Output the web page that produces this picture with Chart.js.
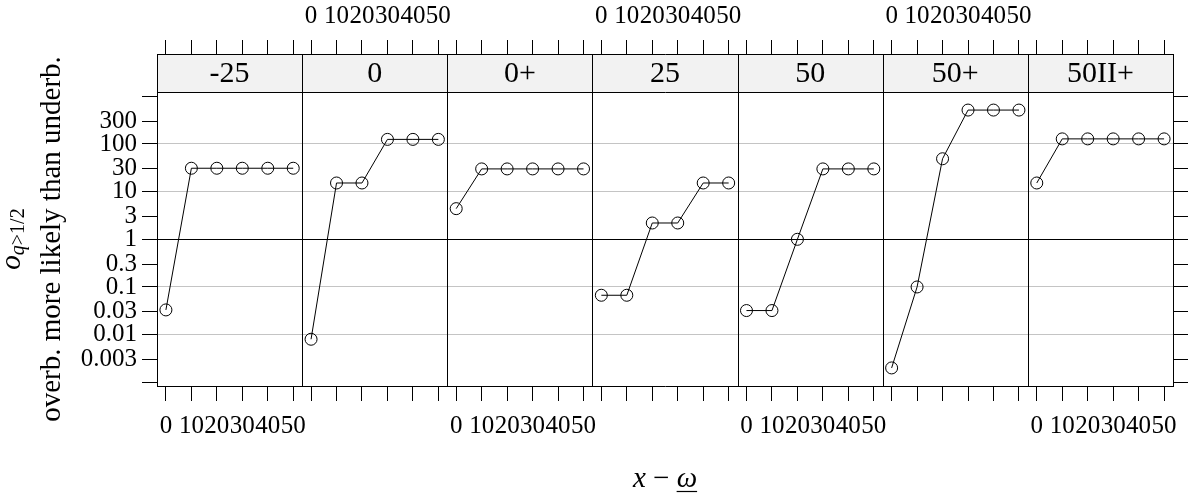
<!DOCTYPE html>
<html>
<head>
<meta charset="utf-8">
<script src="https://cdn.jsdelivr.net/npm/chart.js@4.4.1/dist/chart.umd.min.js"></script>
<style>
  html, body { margin: 0; padding: 0; background: #fff; }
  #wrap { width: 1190px; height: 496px; position: relative; }
</style>
</head>
<body>
<div id="wrap"><canvas id="odds"></canvas></div>
<script>
// one panel per condition, odds on a log axis
var panels = ['-25', '0', '0+', '25', '50', '50+', '50II+'];
var xValues = [0, 10, 20, 30, 40, 50];

var oddsM25   = [0.033, 31, 31, 31, 31, 31];
var odds0     = [0.008, 15.2, 15.2, 125, 125, 125];
var odds0p    = [4.4, 30, 30, 30, 30, 30];
var odds25    = [0.067, 0.067, 2.2, 2.2, 15.2, 15.2];
var odds50    = [0.032, 0.032, 1, 30, 30, 30];
var odds50p   = [0.002, 0.1, 49, 515, 515, 515];
var odds50IIp = [15.2, 128, 128, 128, 128, 128];

var yTickValues = [0.001, 0.003, 0.01, 0.03, 0.1, 0.3, 1, 3, 10, 30, 100, 300, 1000];
var yTickLabels = ['', '0.003', '0.01', '0.03', '0.1', '0.3', '1', '3', '10', '30', '100', '300', ''];
var xTickValues = [0, 10, 20, 30, 40, 50];

var series = [oddsM25, odds0, odds0p, odds25, odds50, odds50p, odds50IIp];

var FONT = 'Liberation Serif';
Chart.defaults.font.family = FONT;
Chart.defaults.font.size = 25;
Chart.defaults.color = '#000';

var Y_MIN = Math.pow(10, -3.078);
var Y_MAX = Math.pow(10, 3.091);

function setTicks(vals) {
  return function (scale) {
    scale.ticks = vals.map(function (v) { return { value: v }; });
  };
}
// fixed axis sizes, and no extra side padding for overhanging labels
function fixSize(w, h) {
  return function (scale) {
    if (w != null) scale.width = w;
    if (h != null) scale.height = h;
    scale.paddingLeft = 0;
    scale.paddingRight = 0;
    scale.paddingTop = 0;
    scale.paddingBottom = 0;
  };
}

var scales = {
  y: {
    type: 'logarithmic', position: 'left', min: Y_MIN, max: Y_MAX,
    afterBuildTicks: setTicks(yTickValues),
    afterFit: fixSize(157, null),
    border: { display: false },
    grid: {
      tickLength: 15, tickColor: '#000',
      color: function (c) {
        var v = c.tick ? c.tick.value : 0;
        if (v === 1) return '#000';
        if (v === 0.01 || v === 0.1 || v === 10 || v === 100) return '#c4c4c4';
        return 'rgba(0,0,0,0)';
      }
    },
    ticks: {
      autoSkip: false, padding: 5,
      callback: function (v, i) { return yTickLabels[i]; }
    }
  },
  yr: {
    type: 'logarithmic', position: 'right', min: Y_MIN, max: Y_MAX,
    afterBuildTicks: setTicks(yTickValues),
    afterFit: fixSize(17, null),
    border: { display: false },
    grid: { drawOnChartArea: false, tickLength: 15, tickColor: '#000' },
    ticks: { display: false, autoSkip: false }
  },
  strip: {
    type: 'category', position: 'top', labels: panels, offset: true, weight: 1,
    afterFit: fixSize(null, 38),
    border: { display: false },
    grid: { display: false },
    ticks: { autoSkip: false, maxRotation: 0, minRotation: 0, padding: -8, font: { size: 30 } }
  }
};

panels.forEach(function (p, i) {
  var common = {
    type: 'linear', min: -3.5, max: 53.5,
    afterBuildTicks: setTicks(xTickValues),
    border: { display: false }
  };
  scales['b' + i] = Object.assign({}, common, {
    position: 'bottom', stack: 'bottom', weight: 1,
    afterFit: fixSize(null, 110),
    grid: { drawOnChartArea: false, tickLength: 15, tickColor: '#000' },
    ticks: { display: i % 2 === 0, autoSkip: false, maxRotation: 0, minRotation: 0, padding: 10 }
  });
  scales['t' + i] = Object.assign({}, common, {
    position: 'top', stack: 'top', weight: 2,
    afterFit: fixSize(null, 54),
    grid: { drawOnChartArea: false, tickLength: 14, tickColor: '#000' },
    ticks: { display: i % 2 === 1, autoSkip: false, maxRotation: 0, minRotation: 0, padding: 9 }
  });
});

var datasets = series.map(function (vals, i) {
  return {
    label: panels[i],
    data: xValues.map(function (x, j) { return { x: x, y: vals[j] }; }),
    xAxisID: 'b' + i,
    yAxisID: 'y',
    borderColor: '#000',
    borderWidth: 1,
    pointRadius: 6,
    pointBorderWidth: 1,
    pointBorderColor: '#000',
    pointBackgroundColor: 'rgba(0,0,0,0)',
    tension: 0
  };
});

function drawRuns(ctx, runs, x, y) {
  var total = 0;
  runs.forEach(function (r) { ctx.font = r.font; r.w = ctx.measureText(r.text).width; total += r.w; });
  var cx = x - total / 2;
  runs.forEach(function (r) {
    ctx.font = r.font;
    ctx.fillText(r.text, cx, y + (r.dy || 0));
    r.x = cx;
    cx += r.w;
  });
  return runs;
}

var panelFrame = {
  id: 'panelFrame',
  beforeDraw: function (chart) {
    var s = chart.scales.strip, ctx = chart.ctx;
    ctx.save();
    ctx.fillStyle = '#f2f2f2';
    ctx.fillRect(s.left, s.top, s.width, s.height);
    ctx.restore();
  },
  afterDraw: function (chart) {
    var ctx = chart.ctx, a = chart.chartArea, s = chart.scales.strip;
    var px = function (v) { return Math.round(v) + 0.5; };
    ctx.save();
    ctx.strokeStyle = '#000';
    ctx.lineWidth = 1;
    ctx.beginPath();
    [s.top, a.top, a.bottom].forEach(function (y) {
      ctx.moveTo(px(a.left) - 0.5, px(y));
      ctx.lineTo(px(a.right) + 0.5, px(y));
    });
    panels.forEach(function (p, i) {
      var x = px(chart.scales['b' + i].left);
      ctx.moveTo(x, px(s.top));
      ctx.lineTo(x, px(a.bottom));
    });
    ctx.moveTo(px(a.right), px(s.top));
    ctx.lineTo(px(a.right), px(a.bottom));
    ctx.stroke();

    // axis titles
    ctx.fillStyle = '#000';
    ctx.textAlign = 'left';
    ctx.textBaseline = 'alphabetic';
    var midY = (a.top + a.bottom) / 2;

    ctx.save();
    ctx.translate(20, midY);
    ctx.rotate(-Math.PI / 2);
    drawRuns(ctx, [
      { text: 'o', font: 'italic 29px ' + FONT },
      { text: 'q', font: 'italic 20px ' + FONT, dy: 4 },
      { text: '>1/2', font: '20px ' + FONT, dy: 4 }
    ], 0, 0);
    ctx.restore();

    ctx.save();
    ctx.translate(60, midY);
    ctx.rotate(-Math.PI / 2);
    ctx.font = '29px ' + FONT;
    ctx.textAlign = 'center';
    ctx.fillText('overb. more likely than underb.', 0, 0);
    ctx.restore();

    var runs = drawRuns(ctx, [
      { text: 'x', font: 'italic 29px ' + FONT },
      { text: ' \u2212 ', font: '29px ' + FONT },
      { text: '\u03c9', font: 'italic 29px ' + FONT }
    ], (a.left + a.right) / 2, 487);
    var om = runs[2];
    ctx.lineWidth = 1.2;
    ctx.beginPath();
    ctx.moveTo(om.x, 491.5);
    ctx.lineTo(om.x + om.w, 491.5);
    ctx.stroke();
    ctx.restore();
  }
};

new Chart(document.getElementById('odds'), {
  type: 'line',
  data: { datasets: datasets },
  options: {
    responsive: true,
    maintainAspectRatio: false,
    animation: false,
    events: [],
    layout: { padding: 0 },
    plugins: { legend: { display: false }, tooltip: { enabled: false } },
    scales: scales
  },
  plugins: [panelFrame]
});
</script>
</body>
</html>
